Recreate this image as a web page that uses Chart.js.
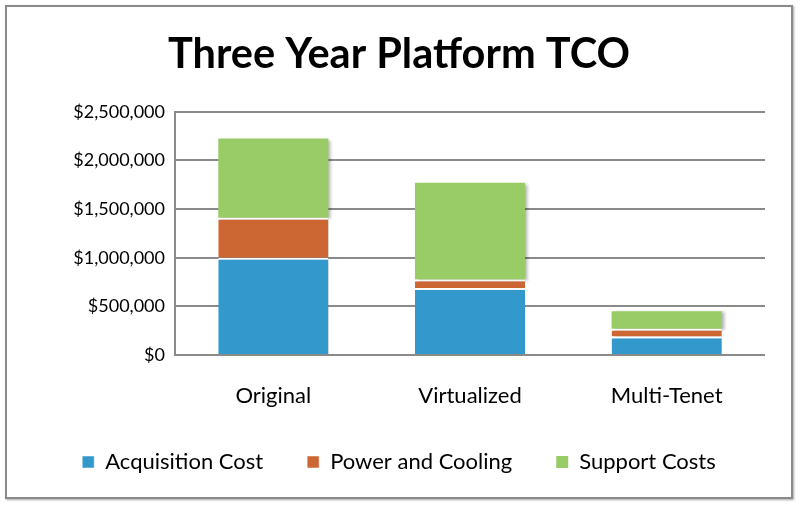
<!DOCTYPE html>
<html>
<head>
<meta charset="utf-8">
<title>Three Year Platform TCO</title>
<script src="https://cdn.jsdelivr.net/npm/chart.js@4.4.1/dist/chart.umd.min.js"></script>
<style>
    html, body { margin: 0; padding: 0; background: #fff; }
    #frame {
        position: absolute; left: 5px; top: 5px;
        width: 784px; height: 490px;
        border: 2px solid #8a8a8a;
        box-shadow: 1px 1px 2px rgba(0,0,0,0.35);
        background: #fff;
    }
    #chart { display: block; }
</style>
</head>
<body>
<div id="frame"><canvas id="chart" width="784" height="490"></canvas></div>
<script>
const categories = ['Original', 'Virtualized', 'Multi-Tenet'];
const acquisition = [1000000, 690000, 190000];
const powerCooling = [410000, 85000, 80000];
const support = [815000, 995000, 180000];
const yTicks = [0, 500000, 1000000, 1500000, 2000000, 2500000];

const FONT = 'Lato, "Open Sans", sans-serif';

// soft grey shadow to the right of the bars, like the old office chart
const barShadow = {
    id: 'barShadow',
    beforeDatasetsDraw(chart) {
        const ctx = chart.ctx;
        ctx.save();
        ctx.shadowColor = 'rgba(0,0,0,0.28)';
        ctx.shadowBlur = 3;
        ctx.shadowOffsetX = 3;
        ctx.shadowOffsetY = 1;
    },
    afterDatasetsDraw(chart) {
        chart.ctx.restore();
    }
};

const data = {
    labels: categories,
    datasets: [
        {
            label: 'Acquisition Cost',
            data: acquisition,
            backgroundColor: '#3399cc',
            borderColor: '#ffffff',
            borderWidth: {top: 2, left: 0, right: 0, bottom: 0},
            borderSkipped: false,
        },
        {
            label: 'Power and Cooling',
            data: powerCooling,
            backgroundColor: '#cc6633',
            borderColor: '#ffffff',
            borderWidth: {top: 2, left: 0, right: 0, bottom: 0},
            borderSkipped: false,
        },
        {
            label: 'Support Costs',
            data: support,
            backgroundColor: '#99cc66',
            borderWidth: 0,
        },
    ]
};

const config = {
    type: 'bar',
    data: data,
    plugins: [barShadow],
    options: {
        responsive: false,
        animation: false,
        categoryPercentage: 0.56,
        barPercentage: 1.0,
        layout: {
            padding: {left: 0, right: 0, top: 0, bottom: 14}
        },
        plugins: {
            title: {
                display: true,
                text: 'Three Year Platform TCO',
                color: '#000',
                font: {family: FONT, size: 41.5, weight: 'bold'},
                padding: {top: 23, bottom: 32},
            },
            legend: {
                position: 'bottom',
                labels: {
                    color: '#000',
                    font: {family: FONT, size: 22},
                    boxWidth: 12,
                    boxHeight: 12,
                    padding: 44,
                },
            },
            tooltip: {enabled: false},
        },
        scales: {
            x: {
                stacked: true,
                grid: {display: false, drawTicks: false},
                border: {display: false},
                ticks: {
                    color: '#000',
                    font: {family: FONT, size: 22},
                    padding: 28,
                },
                afterFit(scale) { scale.height = 52; },
            },
            y: {
                stacked: true,
                min: 0,
                max: 2500000,
                afterBuildTicks(scale) {
                    scale.ticks = yTicks.map(v => ({value: v}));
                },
                grid: {color: '#8a8a8a', lineWidth: 2, drawTicks: false},
                border: {display: true, color: '#8a8a8a', width: 2},
                ticks: {
                    color: '#000',
                    font: {family: FONT, size: 18},
                    padding: 10,
                    callback: (v) => '$' + Number(v).toLocaleString('en-US'),
                },
                afterFit(scale) { scale.width = 168; },
            },
            // empty right-hand axis, only keeps the gap on the right side of the plot
            yRight: {
                position: 'right',
                grid: {display: false, drawTicks: false},
                border: {display: false},
                ticks: {display: false},
                afterFit(scale) { scale.width = 26; },
            }
        }
    }
};

new Chart(document.querySelector('#chart'), config);
</script>
</body>
</html>
